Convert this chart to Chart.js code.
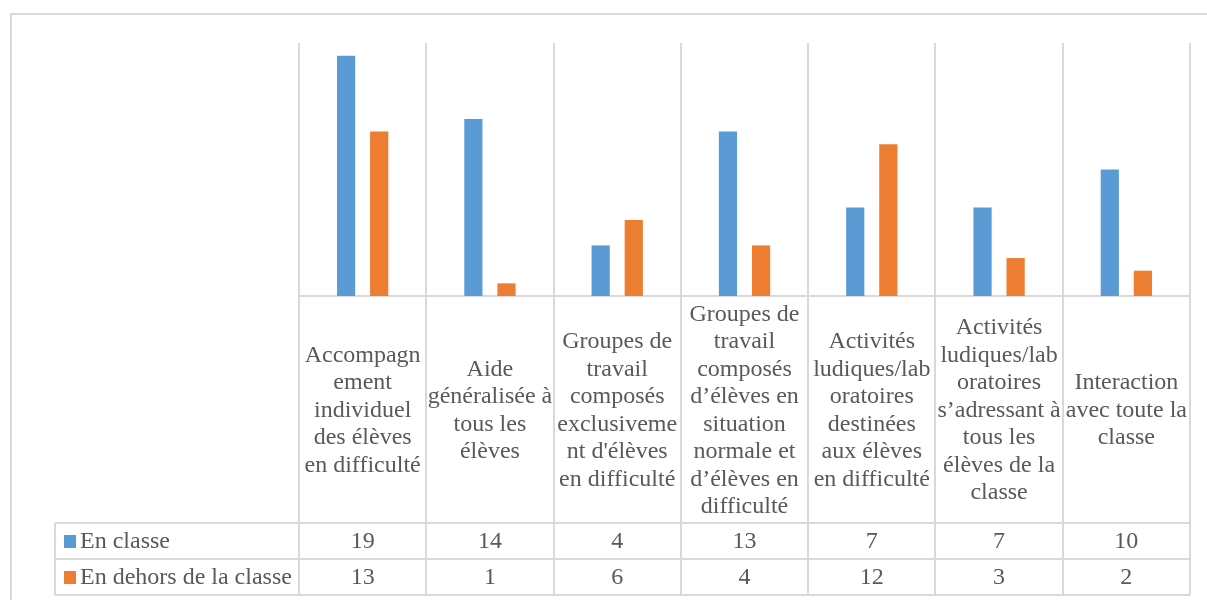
<!DOCTYPE html>
<html>
<head>
<meta charset="utf-8">
<script src="https://cdn.jsdelivr.net/npm/chart.js@4/dist/chart.umd.min.js"></script>
<style>
  html, body { margin: 0; padding: 0; background: #ffffff; }
  #wrap { width: 1207px; height: 600px; position: relative; }
</style>
</head>
<body>
<div id="wrap"><canvas id="c" width="1207" height="600"></canvas></div>
<script>
// Categories (full names) and the wrapped lines shown under each column
const categories = [
  "Accompagnement individuel des élèves en difficulté",
  "Aide généralisée à tous les élèves",
  "Groupes de travail composés exclusivement d'élèves en difficulté",
  "Groupes de travail composés d’élèves en situation normale et d’élèves en difficulté",
  "Activités ludiques/laboratoires destinées aux élèves en difficulté",
  "Activités ludiques/laboratoires s’adressant à tous les élèves de la classe",
  "Interaction avec toute la classe"
];
const categoryLines = [
  ["Accompagn", "ement", "individuel", "des élèves", "en difficulté"],
  ["Aide", "généralisée à", "tous les", "élèves"],
  ["Groupes de", "travail", "composés", "exclusiveme", "nt d'élèves", "en difficulté"],
  ["Groupes de", "travail", "composés", "d’élèves en", "situation", "normale et", "d’élèves en", "difficulté"],
  ["Activités", "ludiques/lab", "oratoires", "destinées", "aux élèves", "en difficulté"],
  ["Activités", "ludiques/lab", "oratoires", "s’adressant à", "tous les", "élèves de la", "classe"],
  ["Interaction", "avec toute la", "classe"]
];

// Series
const seriesNames = ["En classe", "En dehors de la classe"];
const enClasse = [19, 14, 4, 13, 7, 7, 10];
const enDehors = [13, 1, 6, 4, 12, 3, 2];
const seriesColors = ["#5b9bd5", "#ed7d31"];

const FONT = '24px "Liberation Serif", "Times New Roman", serif';
const TEXT = "#595959";
const GRID = "#d9d9d9";

// Draws the frame, the column grid, the category labels and the data table
const tablePlugin = {
  id: "dataTable",
  beforeDatasetsDraw(chart) {
    const ctx = chart.ctx;
    const a = chart.chartArea;
    const n = categories.length;
    const colW = (a.right - a.left) / n;
    const labelBottom = a.bottom + 227;
    const row1 = labelBottom + 36;
    const row2 = row1 + 36;
    const tableLeft = 55;

    ctx.save();
    ctx.strokeStyle = GRID;
    ctx.lineWidth = 2;

    // outer frame (extends past the visible area on the right and bottom)
    ctx.beginPath();
    ctx.moveTo(11, chart.height + 5);
    ctx.lineTo(11, 14);
    ctx.lineTo(chart.width + 5, 14);
    ctx.stroke();

    // vertical column separators
    ctx.beginPath();
    for (let i = 0; i <= n; i++) {
      const x = Math.round(a.left + i * colW);
      ctx.moveTo(x, a.top);
      ctx.lineTo(x, row2);
    }
    // baseline of the bars
    ctx.moveTo(a.left, a.bottom);
    ctx.lineTo(a.right, a.bottom);
    // table rows
    ctx.moveTo(tableLeft, labelBottom);
    ctx.lineTo(a.right, labelBottom);
    ctx.moveTo(tableLeft, row1);
    ctx.lineTo(a.right, row1);
    ctx.moveTo(tableLeft, row2);
    ctx.lineTo(a.right, row2);
    ctx.moveTo(tableLeft, labelBottom);
    ctx.lineTo(tableLeft, row2);
    ctx.stroke();
    ctx.restore();
  },
  afterDraw(chart) {
    const ctx = chart.ctx;
    const a = chart.chartArea;
    const xs = chart.scales.x;
    const labelBottom = a.bottom + 227;
    const labelMid = (a.bottom + labelBottom) / 2;
    const lineH = 27.5;
    const rowMid = [labelBottom + 18, labelBottom + 54];
    const seriesValues = [enClasse, enDehors];

    ctx.save();
    ctx.font = FONT;
    ctx.fillStyle = TEXT;
    ctx.textAlign = "center";
    ctx.textBaseline = "middle";

    categoryLines.forEach((lines, i) => {
      const cx = xs.getPixelForValue(i);
      const top = labelMid - (lines.length - 1) * lineH / 2;
      lines.forEach((t, k) => ctx.fillText(t, cx, top + k * lineH + 1));
    });

    seriesValues.forEach((vals, s) => {
      vals.forEach((v, i) => {
        ctx.fillText(String(v), xs.getPixelForValue(i), rowMid[s] + 1);
      });
    });

    // legend keys in the first table column
    ctx.textAlign = "left";
    seriesNames.forEach((name, s) => {
      ctx.fillStyle = seriesColors[s];
      ctx.fillRect(64, rowMid[s] - 6, 12, 13);
      ctx.fillStyle = TEXT;
      ctx.fillText(name, 80, rowMid[s] + 1);
    });
    ctx.restore();
  }
};

new Chart(document.getElementById("c"), {
  type: "bar",
  data: {
    labels: categories,
    datasets: [
      { label: seriesNames[0], data: enClasse, backgroundColor: seriesColors[0] },
      { label: seriesNames[1], data: enDehors, backgroundColor: seriesColors[1] }
    ]
  },
  options: {
    responsive: false,
    animation: false,
    devicePixelRatio: 1,
    layout: { padding: { left: 299, right: 17, top: 43, bottom: 304 } },
    datasets: { bar: { categoryPercentage: 0.52, barPercentage: 0.55 } },
    scales: {
      x: { display: false },
      y: { display: false, min: 0, max: 20 }
    },
    plugins: {
      legend: { display: false },
      tooltip: { enabled: false }
    }
  },
  plugins: [tablePlugin]
});
</script>
</body>
</html>
